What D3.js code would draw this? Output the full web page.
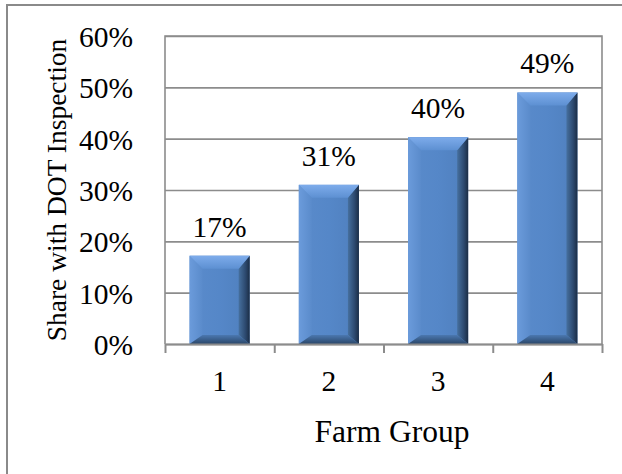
<!DOCTYPE html>
<html>
<head>
<meta charset="utf-8">
<script src="https://cdn.jsdelivr.net/npm/d3@7"></script>
<style>
  body { margin: 0; background: #fff; }
  text { font-family: "Liberation Serif", "Times New Roman", serif; fill: #000; }
</style>
</head>
<body>
<div id="chart"></div>
<script>
// data
const groups = ["1", "2", "3", "4"];
const shares = [0.172, 0.31, 0.403, 0.49];
const shareLabels = ["17%", "31%", "40%", "49%"];
const yTicks = [0, 0.1, 0.2, 0.3, 0.4, 0.5, 0.6];

const W = 622, H = 474;
let margin = {top: 36, right: 20, bottom: 130, left: 165};
let width = W - margin.left - margin.right;
let height = H - margin.top - margin.bottom;

const root = d3.select("#chart").append("svg")
    .attr("width", W)
    .attr("height", H);

// gradients for the bevelled bars
const defs = root.append("defs");
const grad = (id, x2, y2, stops) => {
  let g = defs.append("linearGradient").attr("id", id)
      .attr("x1", 0).attr("y1", 0).attr("x2", x2).attr("y2", y2);
  stops.forEach(s => g.append("stop").attr("offset", s[0]).attr("stop-color", s[1]));
};
grad("face", 1, 0, [[0, "#5a8bcb"], [0.5, "#5587c8"], [1, "#4f7fbd"]]);
grad("bevTop", 0, 1, [[0, "#7eaceb"], [1, "#5d90d2"]]);
grad("bevLeft", 1, 0, [[0, "#6b9bdb"], [1, "#5a8bcb"]]);
grad("bevRight", 1, 0, [[0, "#46709f"], [0.6, "#2d4a70"], [1, "#1b2d45"]]);
grad("bevBottom", 0, 1, [[0, "#4b78b0"], [1, "#2a4668"]]);

// outer frame
root.append("rect")
    .attr("x", 7).attr("y", 5)
    .attr("width", W).attr("height", H)
    .attr("fill", "none")
    .attr("stroke", "#8a8a8a")
    .attr("stroke-width", 2);

const svg = root.append("g")
    .attr("transform", "translate(" + margin.left + "," + margin.top + ")");

let xScale = d3.scaleBand()
    .domain(groups)
    .range([0, width])
    .paddingInner(0.45)
    .paddingOuter(0.225);

let yScale = d3.scaleLinear()
    .domain([0, 0.6])
    .range([height, 0]);

// boundary scale for the category tick marks
let xEdge = d3.scaleLinear().domain([0, groups.length]).range([0, width]);

// plot area
svg.append("rect")
    .attr("width", width).attr("height", height)
    .attr("fill", "#fff");

// y gridlines
svg.append("g")
    .attr("class", "grid")
    .call(d3.axisLeft(yScale).tickValues(yTicks).tickSize(-width).tickFormat(""))
    .call(g => g.select(".domain").remove())
    .call(g => g.selectAll("line").attr("stroke", "#8c8c8c").attr("stroke-width", 1.6));

// plot border (right and top) + y axis line
svg.append("path")
    .attr("d", "M0," + height + "V0H" + width + "V" + height)
    .attr("fill", "none")
    .attr("stroke", "#8c8c8c")
    .attr("stroke-width", 1.6);

// y tick labels
svg.append("g")
    .call(d3.axisLeft(yScale).tickValues(yTicks).tickSize(0).tickPadding(32).tickFormat(d3.format(".0%")))
    .call(g => g.select(".domain").remove())
    .call(g => g.selectAll("text").attr("font-size", 29.5).attr("dy", "0.36em"));

// bars
const bars = svg.selectAll(".bar")
    .data(groups.map((g, i) => ({g: g, v: shares[i], label: shareLabels[i]})))
    .enter().append("g")
    .attr("class", "bar");

const bev = 13, bevB = 9, bevR = 11;
bars.each(function(d) {
  let x0 = xScale(d.g), x1 = x0 + xScale.bandwidth();
  let y0 = yScale(d.v), y1 = yScale(0);
  let g = d3.select(this);
  g.append("rect")
      .attr("x", x0).attr("y", y0)
      .attr("width", x1 - x0).attr("height", y1 - y0)
      .attr("fill", "url(#face)");
  const poly = (pts, fill) => g.append("polygon")
      .attr("points", pts.map(p => p.join(",")).join(" "))
      .attr("fill", fill);
  poly([[x0, y0], [x0 + bev, y0 + bev], [x0 + bev, y1 - bevB], [x0, y1]], "url(#bevLeft)");
  poly([[x1, y0], [x1 - bevR, y0 + bev], [x1 - bevR, y1 - bevB], [x1, y1]], "url(#bevRight)");
  poly([[x0, y1], [x0 + bev, y1 - bevB], [x1 - bevR, y1 - bevB], [x1, y1]], "url(#bevBottom)");
  poly([[x0, y0], [x1, y0], [x1 - bevR, y0 + bev], [x0 + bev, y0 + bev]], "url(#bevTop)");
});

// value labels
bars.append("text")
    .attr("x", d => xScale(d.g) + xScale.bandwidth() / 2)
    .attr("y", d => yScale(d.v) - 19)
    .attr("text-anchor", "middle")
    .attr("font-size", 29.5)
    .text(d => d.label);

// x axis line and ticks at category boundaries
svg.append("g")
    .attr("transform", "translate(0," + height + ")")
    .call(d3.axisBottom(xEdge).ticks(groups.length).tickSize(9).tickSizeOuter(0).tickFormat(""))
    .call(g => g.select(".domain").attr("stroke", "#8c8c8c").attr("stroke-width", 2))
    .call(g => g.selectAll("line").attr("stroke", "#8c8c8c").attr("stroke-width", 2));

// x tick labels
svg.append("g")
    .attr("transform", "translate(0," + height + ")")
    .call(d3.axisBottom(xScale).tickSize(0).tickPadding(26))
    .call(g => g.select(".domain").remove())
    .call(g => g.selectAll("text").attr("font-size", 29.5));

// axis titles
svg.append("text")
    .attr("text-anchor", "middle")
    .attr("transform", "translate(" + (66 - margin.left) + "," + (height / 2) + ")rotate(-90)")
    .attr("font-size", 27.5)
    .text("Share with DOT Inspection");

svg.append("text")
    .attr("text-anchor", "middle")
    .attr("x", 392 - margin.left)
    .attr("y", 442 - margin.top)
    .attr("font-size", 31.5)
    .text("Farm Group");
</script>
</body>
</html>
